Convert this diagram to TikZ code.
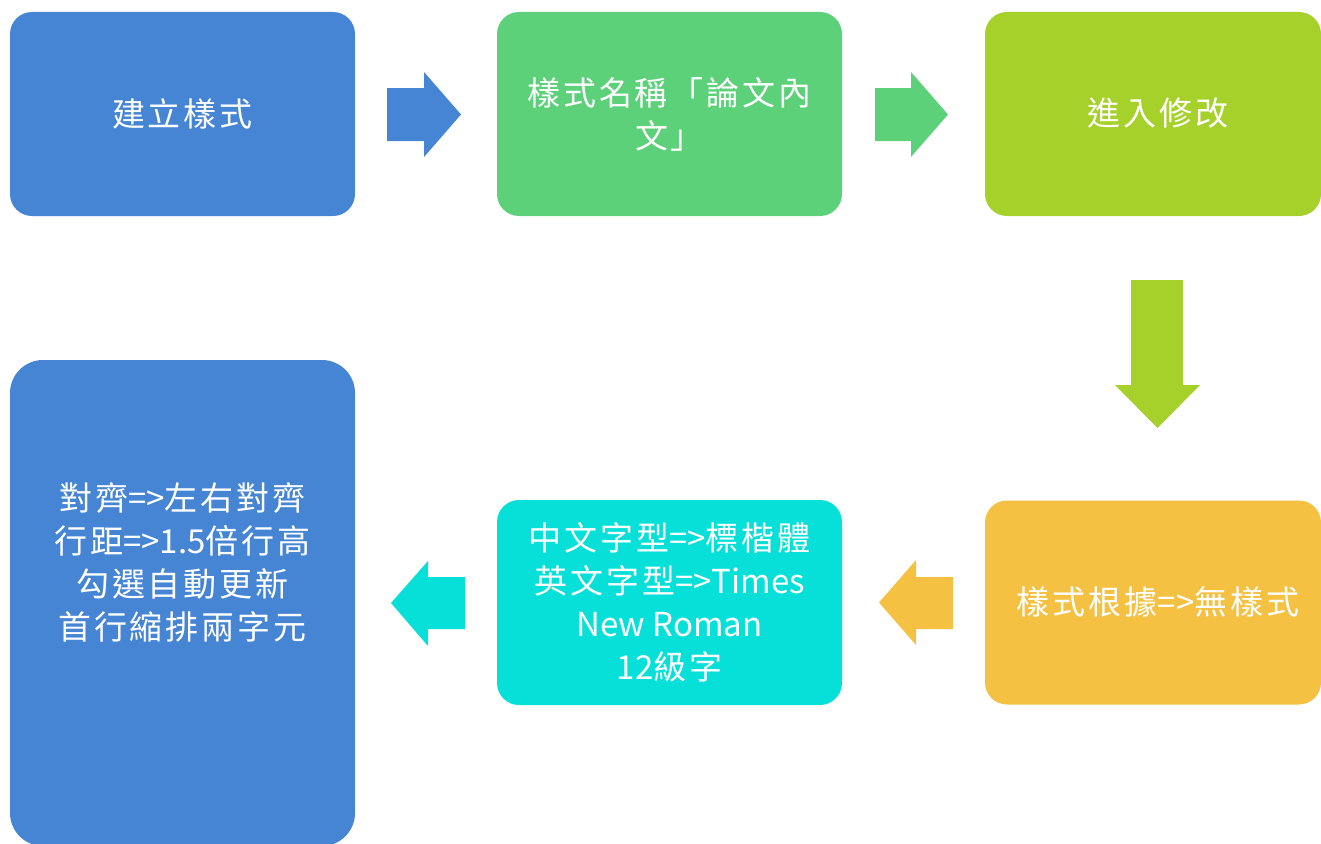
\documentclass[tikz,border=0pt]{standalone}
\usepackage{fontspec}
\setmainfont{Noto Sans CJK TC}[LetterSpace=9]
\newfontfamily\lt{Noto Sans CJK TC}
\definecolor{cBlue}{RGB}{70,133,211}
\definecolor{cGreen}{RGB}{93,209,122}
\definecolor{cLime}{RGB}{166,209,43}
\definecolor{cOrange}{RGB}{244,193,66}
\definecolor{cCyan}{RGB}{6,224,216}
\tikzset{
  stepbox/.style={rounded corners=22pt, inner sep=0pt, minimum height=204pt, text=white,
    font=\fontsize{33}{43}\selectfont, align=center},
  lbl/.style={text=white, font=\fontsize{33}{43}\selectfont, align=center, inner sep=0pt}
}
\begin{document}
\begin{tikzpicture}[x=1pt,y=-1pt]
\useasboundingbox (0,0) rectangle (1321,843);
% boxes
\node[stepbox, fill=cBlue, minimum width=345pt] (b1) at (182.5,114) {建立樣式};
\node[stepbox, fill=cGreen, minimum width=345pt] (b2) at (669.5,114) {樣式名稱「論文內\\文」};
\node[stepbox, fill=cLime, minimum width=336pt] (b3) at (1153,114) {};
\node[lbl] (t3) at (1158,113) {進入修改};
\node[stepbox, fill=cOrange, minimum width=336pt] (b4) at (1153,602.5) {};
\node[lbl] (t4) at (1158,602) {樣式根據{\lt =>}無樣式};
\node[stepbox, fill=cCyan, minimum width=345pt, minimum height=205pt] (b5) at (669.5,602.5) {中文字型{\lt =>}標楷體\\英文字型{\lt =>Times}\\{\lt New Roman}\\{\lt 12}級字};
\node[stepbox, rounded corners=33pt, fill=cBlue, minimum width=345pt, minimum height=486pt] (b6) at (182.5,603) {};
\node[lbl] (t6) at (182.5,562) {對齊{\lt =>}左右對齊\\行距{\lt =>1.5}倍行高\\勾選自動更新\\首行縮排兩字元};
% block arrows
\fill[cBlue] (387,88) -- (424,88) -- (424,72) -- (461,114.5) -- (424,157) -- (424,141) -- (387,141) -- cycle;
\fill[cGreen] (875,88) -- (911,88) -- (911,72) -- (948,114.5) -- (911,157) -- (911,141) -- (875,141) -- cycle;
\fill[cLime] (1131,280) -- (1183,280) -- (1183,385) -- (1200,385) -- (1157.5,428) -- (1115,385) -- (1131,385) -- cycle;
\fill[cOrange] (953,577) -- (916,577) -- (916,560) -- (879,602.5) -- (916,645) -- (916,629) -- (953,629) -- cycle;
\fill[cCyan] (465,577) -- (428,577) -- (428,561) -- (391,603) -- (428,646) -- (428,629) -- (465,629) -- cycle;
\end{tikzpicture}
\end{document}
